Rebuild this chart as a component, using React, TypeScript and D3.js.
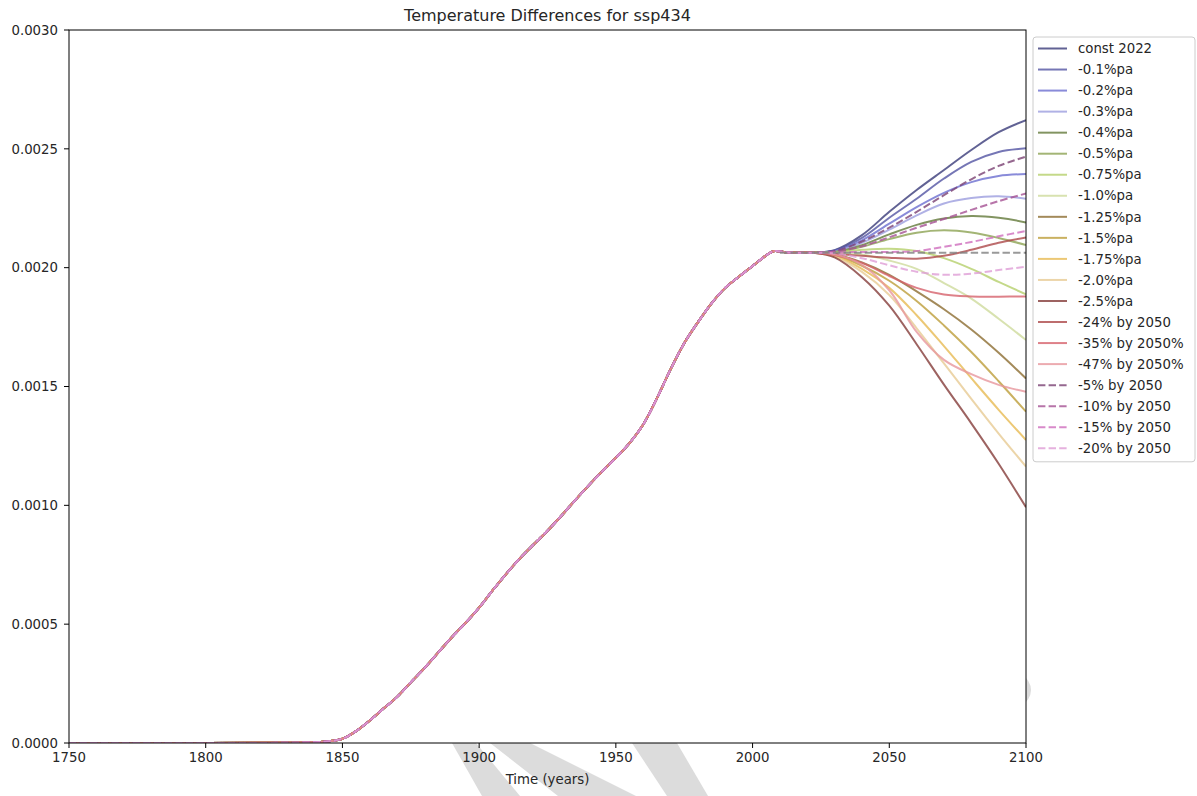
import React from "react";
import * as d3 from "d3";

// ---------- data (temperature values in units of 1e-3) ----------
const UNIT = 1e-3;

const histYears = [1750, 1800, 1830, 1840, 1845, 1850, 1855, 1860, 1865, 1870, 1875, 1880, 1885, 1890, 1895, 1900, 1905, 1910, 1915, 1920, 1925, 1930, 1935, 1940, 1945, 1950, 1955, 1960, 1965, 1970, 1975, 1980, 1985, 1990, 1995, 2000, 2005, 2008, 2012, 2016];
const histValues = [0, 0, 0.001, 0.003, 0.007, 0.018, 0.05, 0.095, 0.145, 0.194, 0.255, 0.315, 0.38, 0.445, 0.505, 0.57, 0.643, 0.713, 0.778, 0.836, 0.893, 0.955, 1.02, 1.083, 1.143, 1.2, 1.262, 1.34, 1.45, 1.572, 1.682, 1.77, 1.85, 1.915, 1.962, 2.007, 2.052, 2.07, 2.065, 2.063];

const futureYears = [2022, 2030, 2040, 2050, 2060, 2070, 2080, 2090, 2100];

const seriesLabels = [
  "const 2022", "-0.1%pa", "-0.2%pa", "-0.3%pa", "-0.4%pa", "-0.5%pa", "-0.75%pa", "-1.0%pa",
  "-1.25%pa", "-1.5%pa", "-1.75%pa", "-2.0%pa", "-2.5%pa", "-24% by 2050", "-35% by 2050%",
  "-47% by 2050%", "-5% by 2050", "-10% by 2050", "-15% by 2050", "-20% by 2050",
];

const const2022 = [2.063, 2.074, 2.137, 2.235, 2.327, 2.411, 2.495, 2.57, 2.621];
const pa01 = [2.063, 2.072, 2.125, 2.21, 2.29, 2.375, 2.445, 2.487, 2.502];
const pa02 = [2.063, 2.07, 2.115, 2.185, 2.255, 2.315, 2.36, 2.386, 2.394];
const pa03 = [2.063, 2.068, 2.105, 2.16, 2.22, 2.27, 2.293, 2.3, 2.29];
const pa04 = [2.063, 2.066, 2.095, 2.14, 2.18, 2.207, 2.217, 2.21, 2.19];
const pa05 = [2.063, 2.065, 2.088, 2.12, 2.147, 2.157, 2.148, 2.125, 2.095];
const pa075 = [2.063, 2.064, 2.075, 2.08, 2.07, 2.04, 1.995, 1.94, 1.888];
const pa10 = [2.063, 2.062, 2.055, 2.03, 1.995, 1.935, 1.87, 1.785, 1.696];
const pa125 = [2.063, 2.056, 2.022, 1.97, 1.9, 1.825, 1.74, 1.642, 1.534];
const pa15 = [2.063, 2.053, 2.008, 1.945, 1.86, 1.757, 1.645, 1.522, 1.394];
const pa175 = [2.063, 2.05, 1.995, 1.915, 1.8, 1.67, 1.535, 1.402, 1.275];
const pa20 = [2.063, 2.047, 1.982, 1.885, 1.745, 1.597, 1.448, 1.302, 1.163];
const pa25 = [2.063, 2.043, 1.96, 1.84, 1.678, 1.508, 1.345, 1.175, 0.992];
const by2050_24 = [2.063, 2.058, 2.05, 2.042, 2.038, 2.05, 2.075, 2.105, 2.127];
const by2050_35 = [2.063, 2.053, 2.02, 1.965, 1.915, 1.887, 1.879, 1.878, 1.879];
const by2050_47 = [2.063, 2.056, 2.012, 1.905, 1.73, 1.612, 1.552, 1.507, 1.478];
const by2050_5 = [2.063, 2.07, 2.11, 2.168, 2.235, 2.305, 2.372, 2.428, 2.467];
const by2050_10 = [2.063, 2.067, 2.09, 2.128, 2.168, 2.205, 2.243, 2.28, 2.312];
const by2050_15 = [2.063, 2.064, 2.066, 2.066, 2.07, 2.088, 2.108, 2.132, 2.154];
const by2050_20 = [2.063, 2.06, 2.04, 2.01, 1.983, 1.97, 1.975, 1.99, 2.004];

const seriesValues = [
  const2022, pa01, pa02, pa03, pa04, pa05, pa075, pa10, pa125, pa15, pa175, pa20, pa25,
  by2050_24, by2050_35, by2050_47, by2050_5, by2050_10, by2050_15, by2050_20,
];

// unlabeled reference line (grey dashed)
const refYears = [2010, 2100];
const refValues = [2.063, 2.063];

const xTicks = [1750, 1800, 1850, 1900, 1950, 2000, 2050, 2100];
const yTicks = [0, 0.0005, 0.001, 0.0015, 0.002, 0.0025, 0.003];

// ---------- styles ----------
const palette = [
  "#393b79", "#5254a3", "#6b6ecf", "#9c9ede", "#637939", "#8ca252", "#b5cf6b", "#cedb9c",
  "#8c6d31", "#bd9e39", "#e7ba52", "#e7cb94", "#843c39", "#ad494a", "#d6616b", "#e7969c",
  "#7b4173", "#a55194", "#ce6dbd", "#de9ed6",
];
const dashedFrom = 16;

const W = 1197;
const H = 796;
const L = 69, R = 1026, T = 30, B = 743;
const FONT = "'DejaVu Sans', sans-serif";

export default function App() {
  const x = d3.scaleLinear().domain([1750, 2100]).range([L, R]);
  const y = d3.scaleLinear().domain([0, 0.003]).range([B, T]);
  const line = d3
    .line<[number, number]>()
    .x((d) => x(d[0]))
    .y((d) => y(d[1] * UNIT))
    .curve(d3.curveCatmullRom.alpha(0.5));

  const histPts: [number, number][] = histYears.map((yr, i) => [yr, histValues[i]]);
  const paths = seriesValues.map((vals) => {
    const fut: [number, number][] = futureYears.map((yr, i) => [yr, vals[i]]);
    return line(histPts.concat(fut)) || "";
  });
  const refPath = line(refYears.map((yr, i) => [yr, refValues[i]] as [number, number])) || "";
  const fmt = d3.format(".4f");

  const legendX = 1033, legendY = 37, legendW = 162, rowH = 21.04;
  const legendH = rowH * seriesLabels.length + 4;

  return (
    <svg width={W} height={H} style={{ position: "absolute", left: 0, top: 0, background: "#fff" }} fontFamily={FONT}>
      {/* background watermark stripes */}
      <g fill="#dcdcdc">
        <polygon points="452,743 476,743 520,796 482,796" />
        <polygon points="490,743 530,743 636,796 558,796" />
        <polygon points="632,743 677,743 708,796 667,796" />
        <path d="M1020,672 Q1042,690 1020,708 Z" />
      </g>
      <rect x={L} y={T} width={R - L} height={B - T} fill="#fff" />

      <defs>
        <clipPath id="plotclip">
          <rect x={L} y={T} width={R - L} height={B - T} />
        </clipPath>
      </defs>

      <g clipPath="url(#plotclip)" fill="none" strokeWidth={2} strokeOpacity={0.8}>
        {paths.map((p, i) => (
          <path
            key={i}
            d={p}
            stroke={palette[i]}
            strokeDasharray={i >= dashedFrom ? "7.4,3.2" : undefined}
          />
        ))}
        <path d={refPath} stroke="#7f7f7f" strokeDasharray="7.4,3.2" />
      </g>

      {/* spines */}
      <rect x={L} y={T} width={R - L} height={B - T} fill="none" stroke="#000" strokeWidth={1} />

      {/* x axis */}
      {xTicks.map((t) => (
        <g key={t}>
          <line x1={x(t)} x2={x(t)} y1={B} y2={B + 5} stroke="#000" />
          <text x={x(t)} y={B + 19} fontSize={13.3} textAnchor="middle" fill="#262626">
            {t}
          </text>
        </g>
      ))}
      <text x={(L + R) / 2} y={784} fontSize={13.3} textAnchor="middle" fill="#262626">
        Time (years)
      </text>

      {/* y axis */}
      {yTicks.map((t) => (
        <g key={t}>
          <line x1={L - 5} x2={L} y1={y(t)} y2={y(t)} stroke="#000" />
          <text x={L - 11} y={y(t) + 4.7} fontSize={13.3} textAnchor="end" fill="#262626">
            {fmt(t)}
          </text>
        </g>
      ))}

      {/* title */}
      <text x={(L + R) / 2} y={21} fontSize={16} textAnchor="middle" fill="#262626">
        Temperature Differences for ssp434
      </text>

      {/* legend */}
      <rect x={legendX} y={legendY} width={legendW} height={legendH} rx={3} fill="#fff" fillOpacity={0.8} stroke="#cccccc" />
      {seriesLabels.map((lab, i) => {
        const ry = legendY + 11.5 + i * rowH;
        return (
          <g key={lab}>
            <line
              x1={legendX + 5}
              x2={legendX + 34}
              y1={ry}
              y2={ry}
              stroke={palette[i]}
              strokeOpacity={0.8}
              strokeWidth={2}
              strokeDasharray={i >= dashedFrom ? "7.4,3.2" : undefined}
            />
            <text x={legendX + 45} y={ry + 4.7} fontSize={13.3} fill="#262626">
              {lab}
            </text>
          </g>
        );
      })}
    </svg>
  );
}
